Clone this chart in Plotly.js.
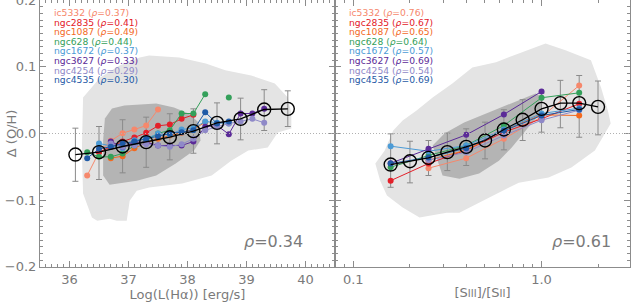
<!DOCTYPE html>
<html><head><meta charset="utf-8">
<script src="https://cdn.plot.ly/plotly-3.0.1.min.js"></script>
<style>body{margin:0;background:#fff}#chart{width:631px;height:304px}</style>
</head><body><div id="chart"></div>
<script>
// ---------- data ----------
const galaxies = ["ic5332","ngc2835","ngc1087","ngc628","ngc1672","ngc3627","ngc4254","ngc4535"];
const galColors = ["#f6886c","#e3202a","#f36a1f","#34a05a","#4c9bd6","#5b2a98","#8f89c8","#1f5aa6"];
const rhoLum = ["0.37","0.41","0.49","0.44","0.37","0.33","0.29","0.30"];
const rhoRatio = ["0.76","0.67","0.65","0.64","0.57","0.69","0.54","0.69"];

// left panel: log L(Halpha)
const lumBins = [36.3,36.5,36.7,36.9,37.1,37.3,37.5,37.7,37.9,38.1,38.3,38.5,38.7,38.9,39.1,39.3];
const lumSeries = [
  [-0.063,-0.028,-0.011,0.0005,0.006,0.012,0.036,null,null,null,null,null,null,null,null,null],
  [null,-0.028,-0.020,-0.012,-0.006,0.001,0.0115,0.0135,0.022,0.028,null,null,null,null,null,null],
  [null,null,-0.037,-0.034,-0.022,-0.014,-0.008,-0.003,0.001,0.006,0.017,null,null,null,null,null],
  [-0.028,-0.035,-0.035,-0.030,-0.018,-0.010,0.000,0.005,0.030,0.030,0.059,null,0.054,null,null,null],
  [null,-0.015,-0.018,-0.022,-0.010,-0.008,0.000,-0.002,0.006,0.008,0.018,0.016,0.015,null,null,null],
  [null,null,-0.012,-0.020,-0.013,-0.013,-0.018,-0.018,-0.018,-0.012,0.010,0.012,-0.001,0.030,0.030,0.037],
  [null,null,-0.015,-0.020,-0.018,-0.016,-0.018,-0.020,-0.016,-0.008,0.005,0.010,0.015,0.018,0.022,0.016],
  [-0.037,-0.023,-0.020,-0.015,-0.012,-0.008,-0.004,0.000,0.002,0.005,0.032,0.015,0.018,null,null,null]
];
const lumMedX = [36.1,36.5,36.9,37.3,37.7,38.1,38.5,38.9,39.3,39.7];
const lumMedY = [-0.0316,-0.028,-0.0195,-0.013,-0.0056,0.0035,0.016,0.022,0.036,0.037];
const lumErrHi = [0.0396,0.0385,0.0401,0.0375,0.0352,0.0335,0.0299,0.031,0.0297,0.027];
const lumErrLo = [0.0401,0.041,0.0395,0.0377,0.0339,0.0331,0.0315,0.0315,0.0315,0.0265];

const lumLightX = [36.21,36.23,36.52,36.85,37.19,37.35,37.86,38.31,38.64,39.08,39.48,39.70,39.76,39.76,39.53,39.36,39.03,38.74,38.41,37.91,37.35,37.14,37.02,36.97,36.80,36.68,36.47,36.38,36.23,36.21];
const lumLightY = [-0.0256,0.054,0.084,0.102,0.114,0.117,0.114,0.105,0.095,0.087,0.075,0.054,0.030,0.0075,0.0015,-0.021,-0.0256,-0.041,-0.063,-0.075,-0.081,-0.086,-0.101,-0.131,-0.131,-0.128,-0.131,-0.126,-0.090,-0.0256];
const lumDarkX = [36.60,36.72,36.93,37.47,37.77,38.02,38.19,38.22,38.11,37.80,37.47,37.14,36.68,36.57,36.57,36.60];
const lumDarkY = [0.0226,0.0376,0.042,0.045,0.039,0.030,0.0165,-0.0105,-0.0256,-0.045,-0.063,-0.0707,-0.0767,-0.063,-0.0105,0.0226];

// right panel: [SIII]/[SII]
const ratioBins = [0.158,0.251,0.398,0.631,1.0,1.585];
const ratioSeries = [
  [null,-0.052,-0.037,-0.008,0.025,0.072],
  [-0.0707,-0.045,-0.025,0.002,0.022,0.0446],
  [null,-0.040,-0.025,0.005,0.028,0.027],
  [-0.0506,-0.033,-0.018,0.012,0.0536,0.061],
  [-0.019,-0.0266,-0.018,0.006,0.030,0.038],
  [-0.0446,-0.023,-0.002,0.0286,0.063,null],
  [null,-0.040,-0.028,-0.003,0.020,0.035],
  [-0.045,-0.036,-0.022,0.004,0.027,0.036]
];
const ratioMedX = [0.158,0.2,0.251,0.316,0.398,0.501,0.631,0.794,1.0,1.259,1.585,1.995];
const ratioMedY = [-0.0466,-0.0416,-0.0366,-0.028,-0.020,-0.0105,0.006,0.0206,0.037,0.0456,0.0456,0.040];
const ratioErrHi = [0.0461,0.030,0.0261,0.0285,0.027,0.0275,0.0296,0.0301,0.0236,0.0341,0.0414,0.0387];
const ratioErrLo = [0.0341,0.0324,0.0264,0.0276,0.028,0.0275,0.0305,0.0311,0.035,0.037,0.0512,0.042];

const ratioLightX = [0.147,0.163,0.183,0.217,0.264,0.336,0.429,0.573,0.757,1.05,1.34,1.83,2.07,2.25,2.33,2.07,1.92,1.44,1.09,0.757,0.594,0.366,0.313,0.254,0.225,0.183,0.151,0.139,0.131,0.147];
const ratioLightY = [-0.0256,0.0045,0.0195,0.0346,0.054,0.075,0.099,0.107,0.120,0.135,0.125,0.110,0.069,0.0346,0.015,-0.0105,-0.0256,-0.051,-0.066,-0.0737,-0.0887,-0.119,-0.119,-0.123,-0.126,-0.111,-0.093,-0.0707,-0.045,-0.0256];
const ratioDarkX = [0.264,0.305,0.388,0.526,0.713,0.929,1.03,0.964,0.824,0.695,0.594,0.466,0.366,0.298,0.264];
const ratioDarkY = [-0.018,0.0,0.0165,0.0316,0.0466,0.060,0.054,0.027,0.0045,-0.021,-0.041,-0.060,-0.068,-0.063,-0.018];

const rhoAll = ["0.34","0.61"];

// ---------- traces ----------
const LIGHT = "#e4e4e4", DARK = "#b4b4b4", AX = "#8c8c8c", TXT = "#7a7a7a";
const traces = [];
function poly(x,y,col,xa,ya){
  traces.push({x:x,y:y,xaxis:xa,yaxis:ya,mode:"lines",fill:"toself",fillcolor:col,
    line:{width:0,color:col},hoverinfo:"skip",showlegend:false});
}
poly(lumLightX,lumLightY,LIGHT,"x","y");
poly(lumDarkX,lumDarkY,DARK,"x","y");
poly(ratioLightX,ratioLightY,LIGHT,"x2","y2");
poly(ratioDarkX,ratioDarkY,DARK,"x2","y2");

function errTrace(x,y,hi,lo,xa,ya){
  traces.push({x:x,y:y,xaxis:xa,yaxis:ya,mode:"markers",marker:{size:1,opacity:0},
    error_y:{type:"data",symmetric:false,array:hi,arrayminus:lo,color:"#8a8a8a",thickness:1,width:3},
    showlegend:false,hoverinfo:"skip"});
}
errTrace(lumMedX,lumMedY,lumErrHi,lumErrLo,"x","y");
errTrace(ratioMedX,ratioMedY,ratioErrHi,ratioErrLo,"x2","y2");

galaxies.forEach((g,i)=>{
  traces.push({x:lumBins,y:lumSeries[i],xaxis:"x",yaxis:"y",mode:"lines+markers",name:g,
    line:{color:galColors[i],width:1},marker:{color:galColors[i],size:6},showlegend:false,connectgaps:false});
  traces.push({x:ratioBins,y:ratioSeries[i],xaxis:"x2",yaxis:"y2",mode:"lines+markers",name:g,
    line:{color:galColors[i],width:1},marker:{color:galColors[i],size:6},showlegend:false,connectgaps:false});
});

function medTrace(x,y,xa,ya){
  traces.push({x:x,y:y,xaxis:xa,yaxis:ya,mode:"lines+markers",line:{color:"#000",width:1.3},
    marker:{symbol:"circle-open",size:13,color:"#000",line:{width:1.4}},showlegend:false});
}
medTrace(lumMedX,lumMedY,"x","y");
medTrace(ratioMedX,ratioMedY,"x2","y2");

// ---------- layout ----------
const FONT = "DejaVu Sans";
const common = {showgrid:false,zeroline:false,showline:true,linecolor:AX,linewidth:1,
  ticks:"inside",ticklen:6,tickcolor:AX,tickwidth:1,mirror:"allticks",ticklabeloverflow:"allow",
  tickfont:{family:FONT,size:13,color:TXT}};
function legendText(rhos){
  return galaxies.map((g,i)=>"<span style='color:"+galColors[i]+";font-size:9.2px'>"+g+" (<i>ρ</i>="+rhos[i]+")</span>").join("<br>");
}
const annotations = [];
annotations.push({xref:"paper",yref:"paper",x:0.0195,y:1-5/267,xanchor:"left",yanchor:"top",align:"left",showarrow:false,
  text:legendText(rhoLum),font:{family:FONT,size:7.4,color:TXT}});
annotations.push({xref:"paper",yref:"paper",x:0.521,y:1-5/267,xanchor:"left",yanchor:"top",align:"left",showarrow:false,
  text:legendText(rhoRatio),font:{family:FONT,size:7.4,color:TXT}});
annotations.push({xref:"paper",yref:"paper",x:0.449,y:0.094,xanchor:"right",yanchor:"middle",showarrow:false,
  text:"<i>ρ</i>="+rhoAll[0],font:{family:FONT,size:16,color:TXT}});
annotations.push({xref:"paper",yref:"paper",x:0.971,y:0.094,xanchor:"right",yanchor:"middle",showarrow:false,
  text:"<i>ρ</i>="+rhoAll[1],font:{family:FONT,size:16,color:TXT}});
annotations.push({xref:"paper",yref:"paper",x:-0.048,y:0.5,xanchor:"center",yanchor:"middle",showarrow:false,
  textangle:-90,text:"Δ (O/H)",font:{family:FONT,size:13,color:TXT}});

const layout = {
  width:631,height:304,margin:{l:40,r:1,t:0,b:37},paper_bgcolor:"#fff",plot_bgcolor:"rgba(0,0,0,0)",
  showlegend:false,
  xaxis:Object.assign({},common,{domain:[0,0.5],range:[35.5,40.5],tickvals:[36,37,38,39,40],
    minor:{dtick:0.1,ticklen:3,tickcolor:AX,ticks:"inside"},
    title:{text:"Log(L(Hα)) [erg/s]",standoff:2,font:{family:FONT,size:13,color:TXT}}}),
  yaxis:Object.assign({},common,{domain:[0,1],range:[-0.2002,0.2002],tickvals:[-0.2,-0.1,0,0.1,0.2],
    ticktext:["−0.2","−0.1","0.0","0.1","0.2"],
    minor:{dtick:0.01,ticklen:3,tickcolor:AX,ticks:"inside"}}),
  xaxis2:Object.assign({},common,{domain:[0.5,1],type:"log",anchor:"y2",range:[Math.log10(0.08),Math.log10(2.95)],
    tickvals:[0.1,1],ticktext:["0.1","1.0"],
    minor:{tickmode:"array",tickvals:[0.08,0.09,0.2,0.3,0.4,0.5,0.6,0.7,0.8,0.9,2],ticklen:3,tickcolor:AX,ticks:"inside"},
    title:{text:"[S<span style='font-size:10px'>III</span>]/[S<span style='font-size:10px'>II</span>]",standoff:2,font:{family:FONT,size:13,color:TXT}}}),
  yaxis2:Object.assign({},common,{domain:[0,1],anchor:"x2",range:[-0.2002,0.2002],tickvals:[-0.2,-0.1,0,0.1,0.2],
    showticklabels:false,minor:{dtick:0.01,ticklen:3,tickcolor:AX,ticks:"inside"}}),
  shapes:[{type:"line",xref:"paper",yref:"y",x0:0,x1:1,y0:0,y1:0,layer:"above",
    line:{color:"#b0b0b0",width:1,dash:"1px,2px"}}],
  annotations:annotations
};
Plotly.newPlot("chart",traces,layout,{displayModeBar:false,staticPlot:true});
</script>
</body></html>
